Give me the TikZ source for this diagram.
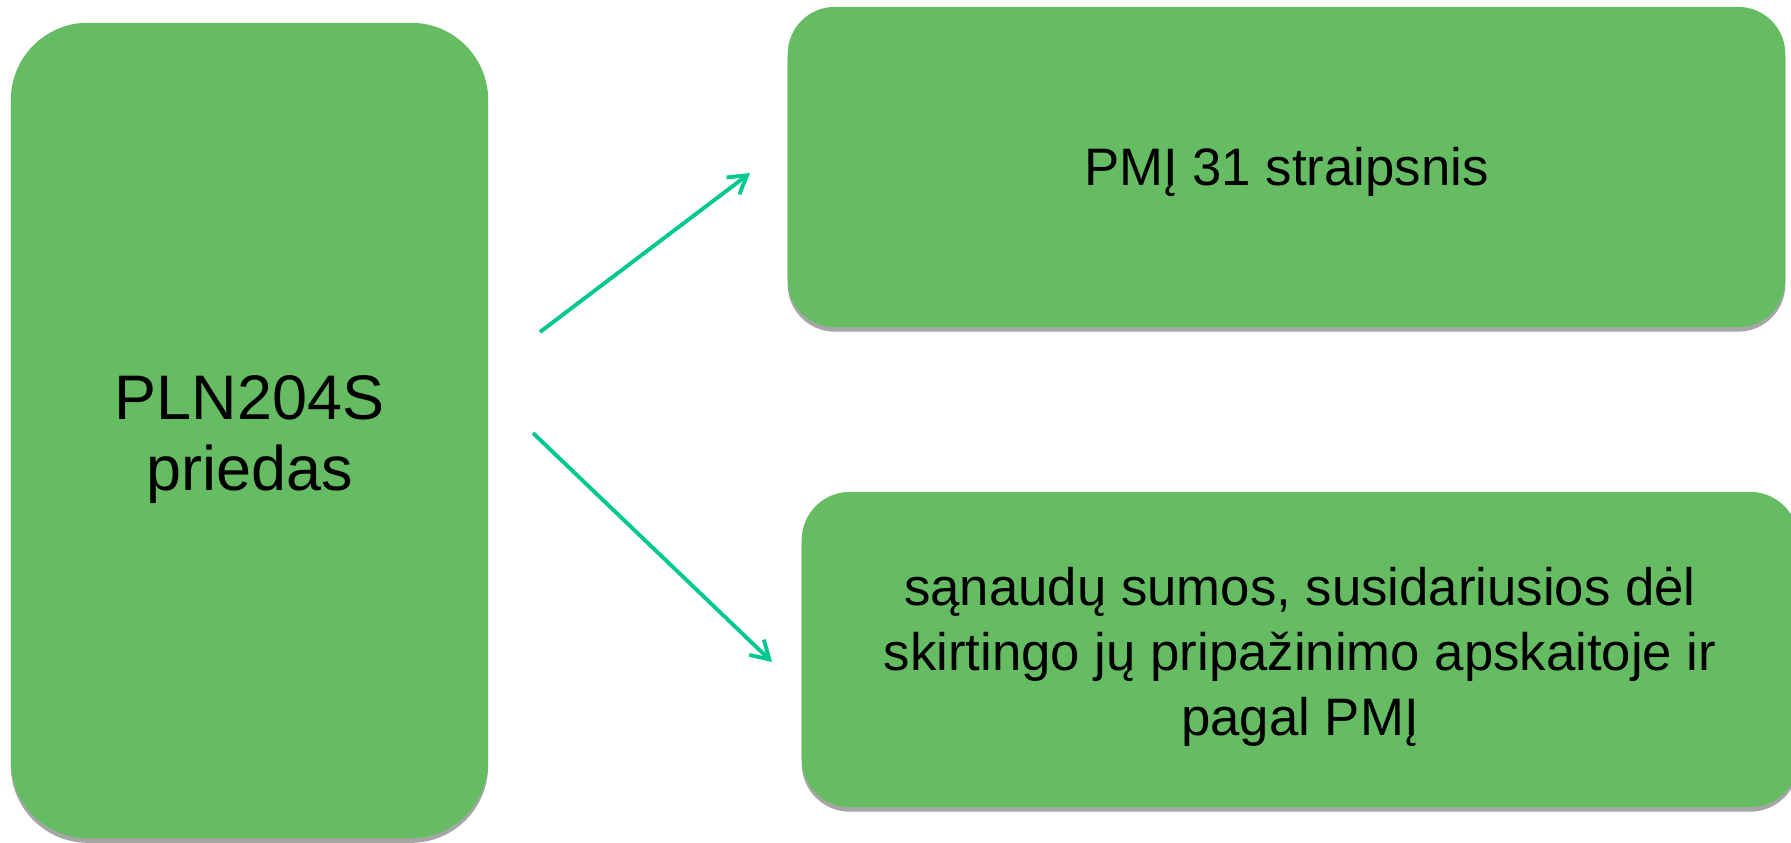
\documentclass[tikz,border=0pt]{standalone}
\usepackage{fontspec}
\setmainfont{Liberation Sans}
\usetikzlibrary{arrows.meta,shadows}
\definecolor{boxgreen}{RGB}{102,188,99}
\definecolor{arrowgreen}{RGB}{0,201,143}
\definecolor{shadowgray}{RGB}{166,166,166}

\begin{document}
\begin{tikzpicture}[x=0.01cm,y=-0.01cm,
	box/.style={fill=boxgreen,inner sep=0pt,
		drop shadow={shadow xshift=0pt,shadow yshift=-1.3pt,fill=shadowgray,opacity=1}},
	txt/.style={inner sep=0pt,align=center},
	link/.style={arrowgreen,line width=1.1pt,-{Straight Barb[length=5pt,width=6pt]}}]
	\clip (0,0) rectangle (1791,842);

	\node[box,rounded corners=0.77cm,minimum width=4.77cm,minimum height=8.15cm] (priedas) at (249.5,430.5) {};
	\node[box,rounded corners=0.47cm,minimum width=9.97cm,minimum height=3.2cm] (straipsnis) at (1286.5,167) {};
	\node[box,rounded corners=0.48cm,minimum width=9.96cm,minimum height=3.15cm] (sanaudos) at (1300,649.5) {};

	\node[txt,font=\fontsize{17.9pt}{20.2pt}\selectfont] (priedastxt) at ([yshift=-0.09cm]priedas.center) {PLN204S\\priedas};
	\node[txt,font=\fontsize{15pt}{18.5pt}\selectfont] (straipsnistxt) at ([yshift=-0.05cm]straipsnis.center) {PMĮ 31 straipsnis};
	\node[txt,font=\fontsize{15pt}{18.5pt}\selectfont] (sanaudostxt) at ([yshift=-0.07cm]sanaudos.center)
		{sąnaudų sumos, susidariusios dėl\\skirtingo jų pripažinimo apskaitoje ir\\pagal PMĮ};

	\coordinate (s1) at (540,332);
	\coordinate (t1) at (750,173);
	\coordinate (s2) at (533,433);
	\coordinate (t2) at (772,662);
	\foreach \a/\b in {s1/t1,s2/t2}
		\draw[link] (\a) -- (\b);
\end{tikzpicture}
\end{document}
